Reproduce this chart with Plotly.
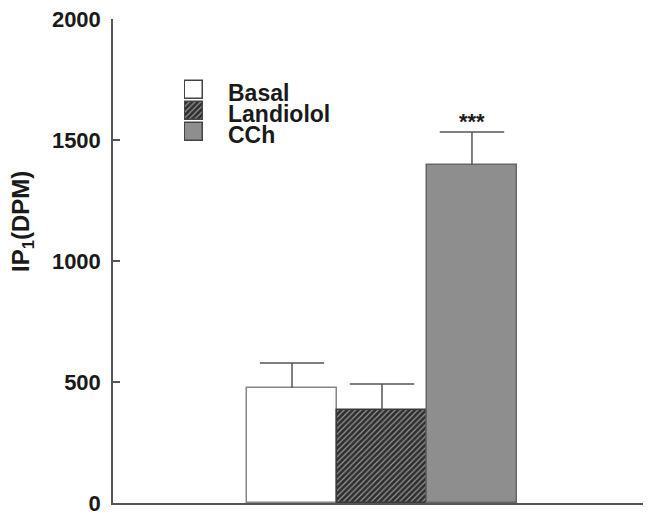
import plotly.graph_objects as go

# ---- data ----
categories = ["Basal", "Landiolol", "CCh"]
values = [475, 384, 1397]
errors = [104, 108, 136]
significance = ["", "", "***"]
y_ticks = [0, 500, 1000, 1500, 2000]

# ---- styles ----
fill_colors = ["white", "#2e2e2e", "#8e8e8e"]
line_colors = ["#858585", "#3a3a3a", "#666666"]
pattern_shapes = ["", "/", ""]
FONT = "Liberation Sans, Arial, Helvetica, sans-serif"
AX = "#555555"
PATTERN = dict(shape=pattern_shapes, fgcolor="#e6e6e6", bgcolor="#2e2e2e",
               size=4, solidity=0.3)

fig = go.Figure()

fig.add_trace(go.Bar(
    x=categories, y=values, width=1.0,
    marker=dict(color=fill_colors, line=dict(color=line_colors, width=1.5),
                pattern=PATTERN),
    showlegend=False, hoverinfo="skip",
    xaxis="x", yaxis="y",
))

# error bars (upper only): stems + caps
stem_x, stem_y = [], []
for c, v, e in zip(categories, values, errors):
    stem_x += [c, c, None]
    stem_y += [v, v + e, None]
fig.add_trace(go.Scatter(
    x=stem_x, y=stem_y, mode="lines", line=dict(color=AX, width=1.5),
    showlegend=False, hoverinfo="skip", cliponaxis=False,
))
fig.add_trace(go.Scatter(
    x=categories, y=[v + e for v, e in zip(values, errors)], mode="markers",
    marker=dict(symbol="line-ew", size=46, line=dict(color=AX, width=1.5)),
    showlegend=False, hoverinfo="skip", cliponaxis=False,
))

# manual legend boxes (mini subplot)
legend_pos = list(range(len(categories)))[::-1]
fig.add_trace(go.Bar(
    y=legend_pos, x=[1] * len(categories), orientation="h", width=0.86,
    marker=dict(color=fill_colors, line=dict(color="#444444", width=1.5),
                pattern=PATTERN),
    showlegend=False, hoverinfo="skip",
    xaxis="x2", yaxis="y2",
))

# page has an 8px body margin -> compensate
OFF = 8
W, H = 651 - OFF, 517 - OFF
L, R, T, B = 113 - OFF, 0, 19 - OFF, 14
pw, ph = W - L - R, H - T - B


def px(xp):
    return (xp - OFF - L) / pw


def py(yp):
    return (H - B - (yp - OFF)) / ph


annotations = []
# legend text
for cat, yc in zip(categories, [92, 113.5, 134.5]):
    annotations.append(dict(
        text=cat, xref="paper", yref="paper", x=px(226), y=py(yc),
        xanchor="left", yanchor="middle", showarrow=False, height=21,
        font=dict(family=FONT, size=23, weight="bold", color="#1a1a1a"),
    ))

# significance stars
for cat, v, e, s in zip(categories, values, errors, significance):
    if s:
        annotations.append(dict(
            text=s, x=cat, y=v + e, xref="x", yref="y",
            yanchor="bottom", showarrow=False, yshift=-4,
            font=dict(family=FONT, size=22, weight="bold", color="#1a1a1a"),
        ))

# y axis title
annotations.append(dict(
    text="IP<sub>1</sub>(DPM)", xref="paper", yref="paper",
    x=px(22), y=py(222), textangle=-90, showarrow=False,
    xanchor="center", yanchor="middle",
    font=dict(family=FONT, size=24, weight="bold", color="#1a1a1a"),
))

fig.update_layout(
    width=W, height=H,
    margin=dict(l=L, r=R, t=T, b=B),
    paper_bgcolor="white", plot_bgcolor="white",
    bargap=0,
    xaxis=dict(
        range=[-1.99, 3.99], showticklabels=False, ticks="",
        showgrid=False, zeroline=False,
        showline=True, linecolor=AX, linewidth=1.5,
    ),
    yaxis=dict(
        range=[0, 2000], tickvals=y_ticks, ticks="inside", ticklen=7,
        tickcolor=AX, tickwidth=1.5, showgrid=False, zeroline=False,
        showline=True, linecolor=AX, linewidth=1.5,
        ticklabelstandoff=6, ticklabeloverflow="allow",
        tickfont=dict(family=FONT, size=22, weight="bold", color="#1a1a1a"),
    ),
    xaxis2=dict(domain=[px(184), px(204)], range=[-0.06, 1.06], visible=False,
                anchor="y2", fixedrange=True),
    yaxis2=dict(domain=[py(143), py(79)], range=[-0.55, 2.55], visible=False,
                anchor="x2", fixedrange=True),
    annotations=annotations,
    showlegend=False,
)

fig.write_html("out.html")
